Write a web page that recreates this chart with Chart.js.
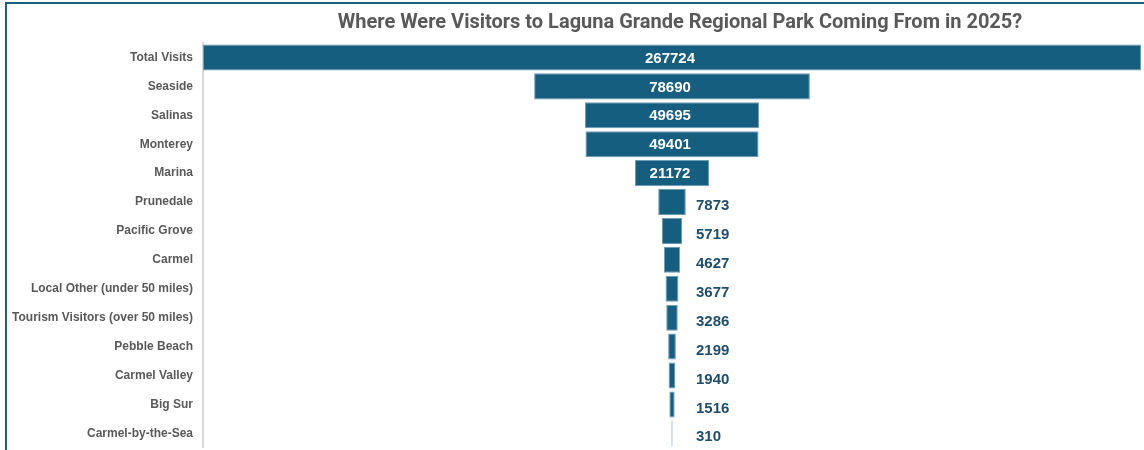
<!DOCTYPE html>
<html>
<head>
<meta charset="utf-8">
<script src="https://cdn.jsdelivr.net/npm/chart.js@4"></script>
<style>
    html, body { margin: 0; padding: 0; background: #ffffff; overflow: hidden; }
    #wrap { position: absolute; left: 0; top: 0; width: 1360px; height: 465px; }
    #frame {
        position: absolute; left: 5px; top: 2px; width: 1400px; height: 500px;
        border-left: 2px solid #1b5f80; border-top: 2px solid #1b5f80;
        pointer-events: none;
    }
</style>
</head>
<body>
<div id="wrap"><canvas id="funnel"></canvas></div>
<div id="frame"></div>
<script>
// Veriler
const categories = [
    'Total Visits', 'Seaside', 'Salinas', 'Monterey', 'Marina', 'Prunedale',
    'Pacific Grove', 'Carmel', 'Local Other (under 50 miles)',
    'Tourism Visitors (over 50 miles)', 'Pebble Beach', 'Carmel Valley',
    'Big Sur', 'Carmel-by-the-Sea'
];
const visits = [267724, 78690, 49695, 49401, 21172, 7873, 5719, 4627, 3677, 3286, 2199, 1940, 1516, 310];

const barColor = '#165e80';
const labelFont = "'Liberation Sans', Arial, sans-serif";

/////////////////////////////// value labels //////////////////////////////////
const funnelLabels = {
    id: 'funnelLabels',
    afterDatasetsDraw(chart) {
        const ctx = chart.ctx;
        const meta = chart.getDatasetMeta(0);
        ctx.save();
        ctx.font = 'bold 15px ' + labelFont;
        ctx.textBaseline = 'middle';
        meta.data.forEach((bar, i) => {
            const text = String(visits[i]);
            const w = Math.abs(bar.x - bar.base);
            const cx = (bar.x + bar.base) / 2;
            const tw = ctx.measureText(text).width;
            if (w > tw + 12) {
                ctx.fillStyle = '#ffffff';
                ctx.textAlign = 'center';
                ctx.fillText(text, cx - 2, bar.y + 1);
            } else {
                ctx.fillStyle = '#1d4e6e';
                ctx.textAlign = 'left';
                ctx.fillText(text, cx + 24, bar.y + 4);
            }
        });
        ctx.restore();
    }
};

const ctx = document.getElementById('funnel').getContext('2d');
new Chart(ctx, {
    type: 'bar',
    data: {
        labels: categories,
        datasets: [{
            data: visits.map(v => [-v / 2, v / 2]),
            backgroundColor: barColor,
            borderColor: '#6f9bb4',
            borderWidth: 1,
            borderSkipped: false,
            barPercentage: 0.9,
            categoryPercentage: 1.0
        }]
    },
    options: {
        indexAxis: 'y',
        animation: false,
        responsive: true,
        maintainAspectRatio: false,
        layout: { padding: 0 },
        scales: {
            x: {
                display: false,
                min: -visits[0] / 2,
                max: visits[0] / 2
            },
            y: {
                grid: { display: false, drawTicks: false },
                border: { display: true, color: '#d9d9d9', width: 2 },
                ticks: {
                    color: '#595959',
                    padding: 10,
                    font: { family: labelFont, weight: 'bold', size: 12 }
                },
                afterFit: (scale) => { scale.width = 203; }
            },
            // sağ tarafta boşluk (grafik kırpılmış görünüyor)
            y2: {
                type: 'category',
                position: 'right',
                grid: { display: false, drawTicks: false },
                border: { display: false },
                ticks: { display: false },
                afterFit: (scale) => { scale.width = 219; }
            }
        },
        plugins: {
            legend: { display: false },
            tooltip: { enabled: false },
            title: {
                display: true,
                text: 'Where Were Visitors to Laguna Grande Regional Park Coming From in 2025?',
                color: '#595959',
                font: { family: 'Roboto, sans-serif', weight: 'bold', size: 20 },
                padding: { top: 11, bottom: 8 }
            }
        }
    },
    plugins: [funnelLabels]
});
</script>
</body>
</html>
